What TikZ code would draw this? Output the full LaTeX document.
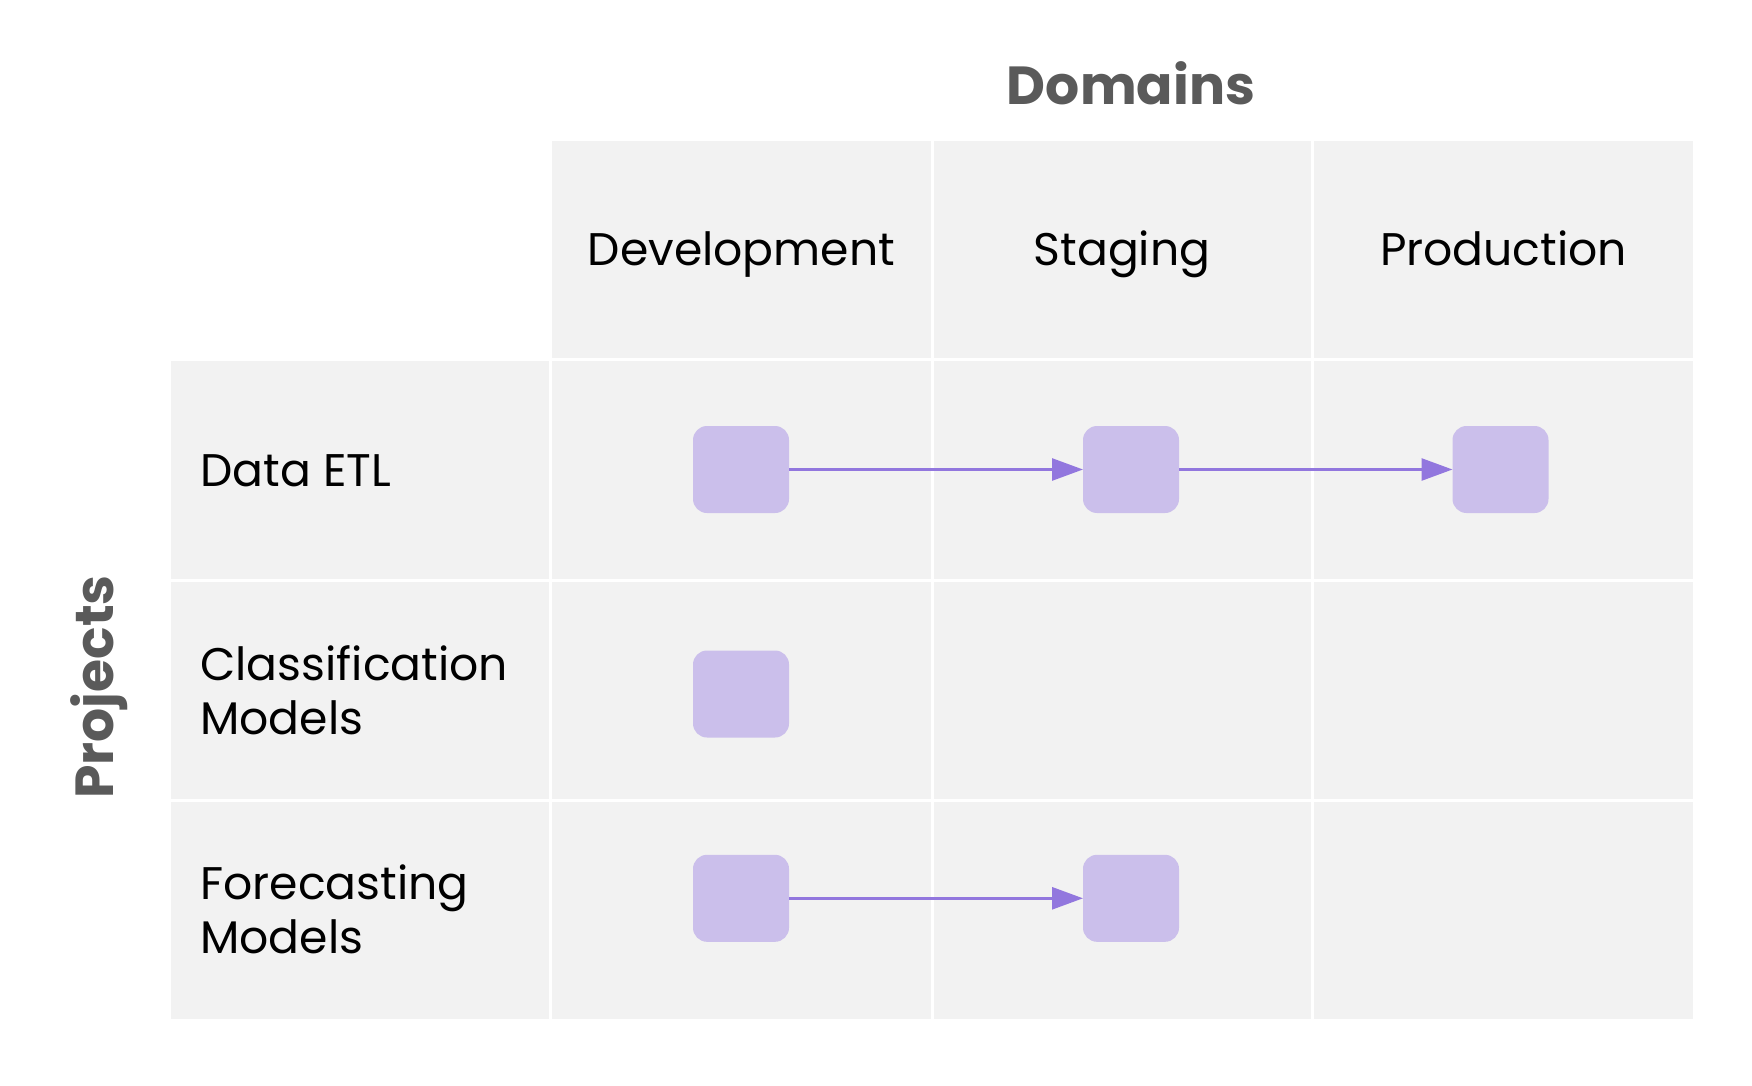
\documentclass[tikz,border=0pt]{standalone}
\usepackage{fontspec}
\setmainfont{Poppins}
\usetikzlibrary{arrows.meta}
\definecolor{cellgray}{HTML}{F2F2F2}
\definecolor{titlegray}{HTML}{5A5A5A}
\definecolor{jobfill}{HTML}{CBBFEB}
\definecolor{flowpurple}{HTML}{9277DE}
\tikzset{
  job/.style={fill=jobfill,rounded corners=7pt,minimum width=48pt,minimum height=43.5pt,inner sep=0pt,outer sep=0pt},
  flow/.style={-{Triangle[length=15.5pt,width=11pt]},line width=1.35pt,flowpurple},
  lbl/.style={font=\fontsize{22.85}{27.15}\selectfont,inner sep=0pt},
  ttl/.style={font=\fontsize{26.8}{30}\selectfont\bfseries,titlegray,inner sep=0pt}
}
\begin{document}
\begin{tikzpicture}[x=0.5pt,y=-0.5pt]
  \useasboundingbox (0,0) rectangle (1752,1086);
  % table
  \fill[cellgray] (552,141) rectangle (1693,1019);
  \fill[cellgray] (171,359) rectangle (552,1019);
  \begin{scope}[white,line width=1.5pt]
    \draw (550.5,359)--(550.5,1019);
    \draw (932,141)--(932,1019);
    \draw (1312.5,141)--(1312.5,1019);
    \foreach \y in {359,580.5,800}
      \draw (171,\y)--(1693,\y);
  \end{scope}
  \node[ttl,anchor=base] (domains) at (1131,105) {Domains};
  \node[ttl,anchor=base,rotate=90] (projects) at (113,687) {Projects};
  \node[lbl,anchor=base] (dev) at (741.5,265.7) {Development};
  \node[lbl,anchor=base] (stg) at (1122,265.7) {Staging};
  \node[lbl,anchor=base] (prd) at (1503.5,265.7) {Production};
  \node[lbl,anchor=base west] (etl) at (200,486.7) {Data ETL};
  \node[lbl,anchor=base west,align=left] (cls) at (200,734.3) {Classification\\Models};
  \node[lbl,anchor=base west,align=left] (fc) at (200,953.5) {Forecasting\\Models};
  % jobs
  \node[job] (etl1) at (741,469.5) {};
  \node[job] (etl2) at (1131,469.5) {};
  \node[job] (etl3) at (1500.5,469.5) {};
  \node[job] (cls1) at (741,694) {};
  \node[job] (fc1) at (741,898.3) {};
  \node[job] (fc2) at (1131,898.3) {};
  \draw[flow] (etl1)--(etl2);
  \draw[flow] (etl2)--(etl3);
  \draw[flow] (fc1)--(fc2);
\end{tikzpicture}
\end{document}
